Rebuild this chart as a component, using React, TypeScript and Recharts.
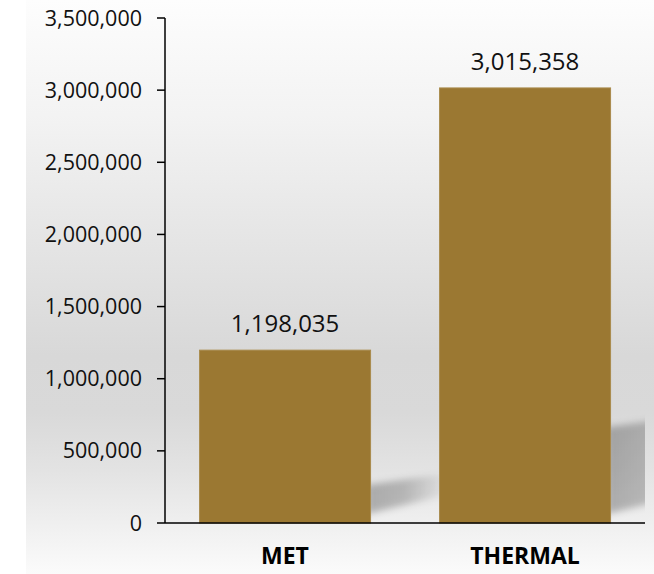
import React from "react";
import { BarChart, Bar, XAxis, YAxis, LabelList } from "recharts";

const categories = ["MET", "THERMAL"];
const tonnes = [1198035, 3015358];
const yTicks = [0, 500000, 1000000, 1500000, 2000000, 2500000, 3000000, 3500000];

const W = 654;
const H = 574;
const MARGIN = { top: 18, right: 9, bottom: 0, left: 0 };
const PLOT_RIGHT = W - MARGIN.right;
const FONT = "'Open Sans', sans-serif";

const data = categories.map((name, i) => ({ name, value: tonnes[i] }));

const fmt = (v: number) => v.toLocaleString("en-US");

// bar with the soft perspective shadow behind its lower right side
function ShadowBar(props: any) {
  const { x, y, width, height, fill, index } = props;
  if (!height) return null;
  const bottom = y + height;
  const x2 = x + width;
  const up = 0.22 * height;
  const len = 80;
  const pts = [
    [x2 - 4, bottom - 9],
    [x2 - 4, bottom - up],
    [x2 + len, bottom - up - 0.15 * len],
    [x2 + len, bottom - 9 - 0.25 * len],
  ]
    .map((p) => p.join(","))
    .join(" ");
  const gid = `shadowFade${index}`;
  return (
    <g>
      <defs>
        <filter id="shadowBlur" x="-50%" y="-50%" width="200%" height="200%">
          <feGaussianBlur stdDeviation="3.5" />
        </filter>
        <clipPath id="plotClip">
          <rect x={0} y={0} width={PLOT_RIGHT} height={H} />
        </clipPath>
        <linearGradient id={gid} x1="0" y1="0" x2="1" y2="0">
          <stop offset="0%" stopColor="#000" stopOpacity={0.27} />
          <stop offset="45%" stopColor="#000" stopOpacity={0.22} />
          <stop offset="100%" stopColor="#000" stopOpacity={0} />
        </linearGradient>
      </defs>
      <g clipPath="url(#plotClip)">
        <polygon points={pts} fill={`url(#${gid})`} filter="url(#shadowBlur)" />
      </g>
      <rect x={x} y={y} width={width} height={height} fill={fill} stroke="#a98b4d" strokeWidth={1} />
    </g>
  );
}

export default function App() {
  return (
    <div style={{ position: "absolute", left: 0, top: 0, width: W, height: H, background: "#fff" }}>
      <div
        style={{
          position: "absolute",
          left: 26,
          top: 0,
          width: W - 26,
          height: H,
          background:
            "linear-gradient(to bottom, #fdfdfd 0%, #f3f3f3 20%, #e3e3e3 45%, #d8d8d8 62%, #d9d9d9 72%, #e3e3e3 82%, #efefef 91%, #fbfbfb 100%)",
        }}
      />
      <div style={{ position: "absolute", left: 0, top: 0 }}>
        <BarChart width={W} height={H} data={data} margin={MARGIN} barCategoryGap="14.4%">
          <XAxis
            dataKey="name"
            height={51}
            tickLine={false}
            tickSize={0}
            tickMargin={25}
            axisLine={{ stroke: "#000", strokeWidth: 1.5 }}
            tick={{ fill: "#000", fontSize: 23, fontWeight: 700, fontFamily: FONT }}
          />
          <YAxis
            width={165}
            domain={[0, 3500000]}
            ticks={yTicks}
            interval={0}
            tickFormatter={fmt}
            tickSize={8}
            tickMargin={15}
            axisLine={{ stroke: "#000", strokeWidth: 1.5 }}
            tickLine={{ stroke: "#000", strokeWidth: 1.5 }}
            tick={{ fill: "#111", fontSize: 21.5, fontFamily: FONT }}
          />
          <Bar dataKey="value" fill="#9b7832" shape={<ShadowBar />} isAnimationActive={false}>
            <LabelList
              dataKey="value"
              position="top"
              offset={18}
              formatter={(v: any) => fmt(Number(v))}
              style={{ fill: "#111", fontSize: 24, fontFamily: FONT }}
            />
          </Bar>
        </BarChart>
      </div>
    </div>
  );
}
